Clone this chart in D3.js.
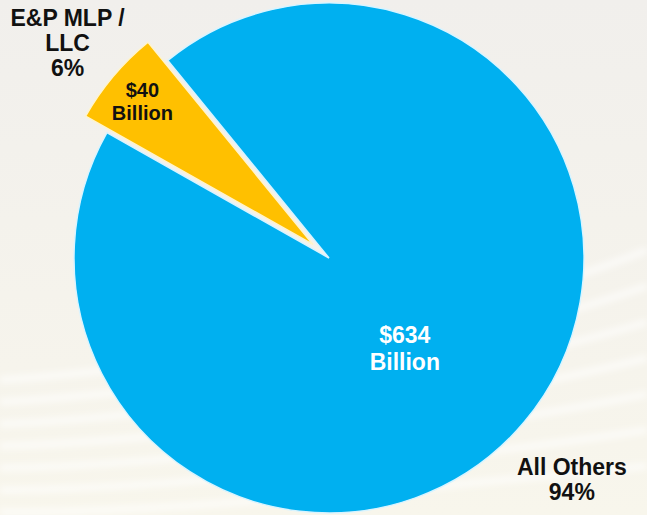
<!DOCTYPE html>
<meta charset="utf-8">
<style>
  body { margin: 0; background: #f3f1ec; }
  svg { display: block; font-family: "Liberation Sans", Arial, sans-serif; font-weight: bold; }
</style>
<body>
<div class="chart"></div>
<script src="https://d3js.org/d3.v7.min.js"></script>
<script>

    // data
    const categories = ["All Others", "E&P MLP / LLC"];
    const values = [634, 40];            // $ billion
    const valueLabels = ["$634", "$40"];

    const width = 647;
    const height = 515;
    const cx = 329, cy = 258;

    const colors = ["#00b0f0", "#ffc000"];
    const radii = [255, 261];
    const explode = [0, 21];
    // where the labels sit: [angle nudge (deg), radius] for the inside and outside labels
    const innerPos = [[9.5, 117], [0, 244]];
    const outerPos = [[2.5, 330], [-1, 337]];
    const innerFill = ["#ffffff", "#111111"];
    const innerSize = [23, 20];

    const total = d3.sum(values);
    const pct = values.map(v => Math.round(v / total * 100) + "%");

    const slices = categories.map((c, i) => ({name: c, value: values[i], i: i}));

    const start = -39.2 * Math.PI / 180;
    const pie = d3.pie()
        .sort(null)
        .value(d => d.value)
        .startAngle(start)
        .endAngle(start + 2 * Math.PI);

    const arcs = pie(slices);
    const arc = d3.arc().innerRadius(0).outerRadius(d => radii[d.index]);

    const svg = d3.select(".chart").append("svg")
        .attr("width", width)
        .attr("height", height);

    // soft background with a few pale swooshes
    const defs = svg.append("defs");
    const bg = defs.append("linearGradient").attr("id", "bg")
        .attr("x1", 0).attr("y1", 0).attr("x2", 0).attr("y2", 1);
    bg.append("stop").attr("offset", "0%").attr("stop-color", "#f1efec");
    bg.append("stop").attr("offset", "100%").attr("stop-color", "#f8f6ec");
    svg.append("rect").attr("width", width).attr("height", height).attr("fill", "url(#bg)");
    defs.append("filter").attr("id", "soft")
        .append("feGaussianBlur").attr("stdDeviation", 3);

    const swoosh = svg.append("g").attr("fill", "none").attr("stroke", "#ffffff")
        .attr("stroke-opacity", 0.6).attr("stroke-width", 7).attr("filter", "url(#soft)");
    d3.range(7).forEach(k => {
        swoosh.append("path")
            .attr("d", `M0,${380 + k * 22} C150,${370 + k * 24} 450,${330 + k * 26} 647,${250 + k * 36}`);
    });

    const polar = (a, r) => [cx + Math.sin(a) * r, cy - Math.cos(a) * r];
    const mid = d => (d.startAngle + d.endAngle) / 2;

    const g = svg.append("g");

    g.selectAll("path.slice")
        .data(arcs)
        .join("path")
        .attr("class", "slice")
        .attr("d", arc)
        .attr("transform", d => {
            const [x, y] = polar(mid(d), explode[d.index]);
            return `translate(${x},${y})`;
        })
        .attr("fill", d => colors[d.index])
        .attr("stroke", d => d.index === 0 ? "#d9f4ff" : "#fff4cc")
        .attr("stroke-width", 1.5);

    // value labels inside the slices
    g.selectAll("text.val")
        .data(arcs)
        .join("text")
        .attr("class", "val")
        .attr("text-anchor", "middle")
        .attr("fill", d => innerFill[d.index])
        .style("font-size", d => innerSize[d.index] + "px")
        .each(function (d) {
            const p = innerPos[d.index];
            const [x, y] = polar(mid(d) + p[0] * Math.PI / 180, p[1]);
            const t = d3.select(this);
            t.append("tspan").attr("x", x).attr("y", y - 4).text(valueLabels[d.index]);
            t.append("tspan").attr("x", x).attr("dy", "1.15em").text("Billion");
        });

    // category labels outside
    g.selectAll("text.cat")
        .data(arcs)
        .join("text")
        .attr("class", "cat")
        .attr("text-anchor", "middle")
        .attr("fill", "#111")
        .style("font-size", "23px")
        .each(function (d) {
            const p = outerPos[d.index];
            const [x, y] = polar(mid(d) + p[0] * Math.PI / 180, p[1]);
            const t = d3.select(this);
            let lines = d.data.name === "E&P MLP / LLC" ? ["E&P MLP /", "LLC"] : [d.data.name];
            lines = lines.concat([pct[d.index]]);
            const y0 = y - (lines.length - 1) * 13 + 7;
            lines.forEach((s, k) => {
                t.append("tspan").attr("x", x).attr("y", y0 + k * 25).text(s);
            });
        });

</script>
